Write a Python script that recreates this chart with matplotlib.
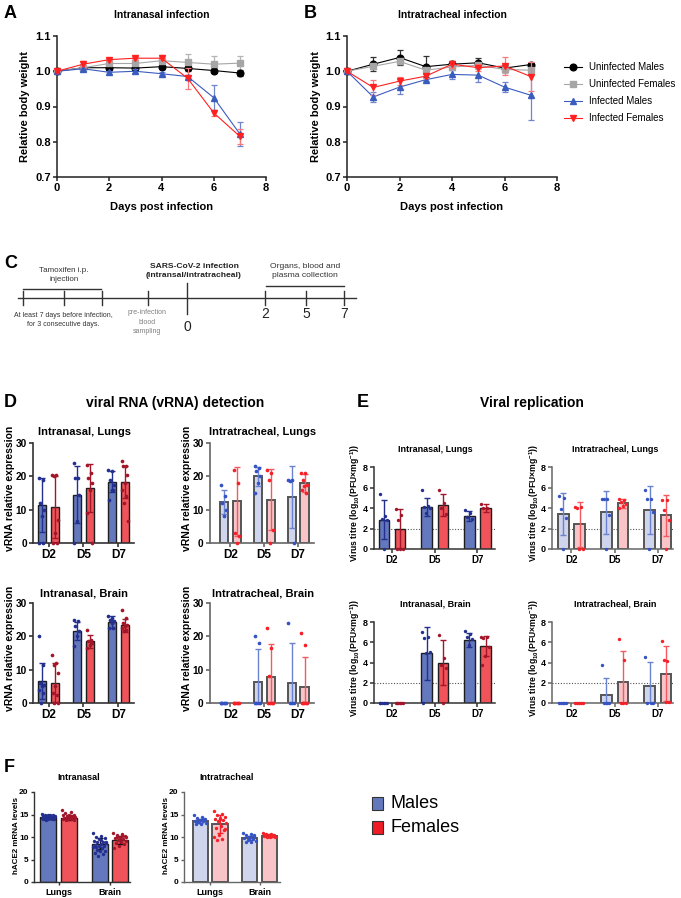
import numpy as np
import matplotlib
matplotlib.use("Agg")
import matplotlib.pyplot as plt
from matplotlib.lines import Line2D
from matplotlib.patches import Rectangle

plt.rcParams['font.family'] = ['Liberation Sans', 'DejaVu Sans']
plt.rcParams['mathtext.fontset'] = 'custom'
plt.rcParams['mathtext.rm'] = 'Liberation Sans:bold'
plt.rcParams['mathtext.bf'] = 'Liberation Sans:bold'
plt.rcParams['mathtext.default'] = 'bf'

# ---------------- data: body weight (A, B) ----------------
days = [0, 1, 2, 3, 4, 5, 6, 7]
series_labels = ["Uninfected Males", "Uninfected Females", "Infected Males", "Infected Females"]

in_unm = [1.0, 1.010, 1.010, 1.009, 1.013, 1.008, 1.002, 0.995]
in_unm_err = [0, 0.006, 0.005, 0.006, 0.007, 0.006, 0.006, 0.008]
in_unf = [1.0, 1.010, 1.022, 1.022, 1.030, 1.025, 1.020, 1.023]
in_unf_err = [0, 0.010, 0.010, 0.010, 0.015, 0.025, 0.022, 0.020]
in_inm = [1.0, 1.007, 0.997, 1.000, 0.993, 0.985, 0.925, 0.822]
in_inm_err = [0, 0.005, 0.004, 0.005, 0.004, 0.005, 0.035, 0.034]
in_inf = [1.0, 1.020, 1.033, 1.037, 1.037, 0.980, 0.882, 0.815]
in_inf_err = [0, 0.008, 0.003, 0.003, 0.003, 0.030, 0.008, 0.020]

it_unm = [1.0, 1.020, 1.039, 1.013, 1.020, 1.024, 1.009, 1.019]
it_unm_err = [0, 0.020, 0.020, 0.030, 0.008, 0.015, 0.010, 0.004]
it_unf = [1.0, 1.014, 1.028, 1.003, 1.012, 1.017, 1.005, 1.003]
it_unf_err = [0, 0.008, 0.008, 0.008, 0.008, 0.010, 0.010, 0.010]
it_inm = [1.0, 0.927, 0.955, 0.976, 0.991, 0.989, 0.955, 0.932]
it_inm_err = [0, 0.013, 0.020, 0.005, 0.013, 0.020, 0.015, 0.070]
it_inf = [1.0, 0.954, 0.972, 0.986, 1.020, 1.010, 1.015, 0.985]
it_inf_err = [0, 0.022, 0.012, 0.005, 0.010, 0.010, 0.026, 0.040]

# ---------------- data: vRNA (D) ----------------
time_labels = ["D2", "D5", "D7"]

d_in_lungs_m = [11.4, 14.5, 18.4]; d_in_lungs_m_sd = [8.0, 8.5, 3.2]
d_in_lungs_f = [10.8, 16.4, 18.3]; d_in_lungs_f_sd = [9.3, 7.2, 4.8]
d_in_lungs_m_pts = [[19.5, 19.0, 12.0, 10.0, 8.0, 0.0, 0.0],
                    [24.0, 19.5, 19.5, 14.5, 6.5, 0.0],
                    [22.0, 21.5, 19.0, 17.5, 16.0, 13.0, 16.0]]
d_in_lungs_f_pts = [[20.5, 20.5, 20.0, 7.0, 3.0, 0.0, 0.0],
                    [23.5, 21.0, 19.5, 18.0, 16.0, 9.0, 0.0],
                    [24.5, 23.0, 23.0, 20.5, 18.0, 16.0, 14.0, 12.0, 6.5]]

d_it_lungs_m = [12.2, 20.0, 13.8]; d_it_lungs_m_sd = [3.6, 2.9, 9.2]
d_it_lungs_f = [12.5, 13.0, 18.0]; d_it_lungs_f_sd = [10.3, 9.2, 2.6]
d_it_lungs_m_pts = [[17.5, 14.0, 12.0, 10.0, 8.0],
                    [23.0, 22.5, 21.5, 20.0, 18.0, 15.0],
                    [19.0, 19.0, 18.5, 0.0]]
d_it_lungs_f_pts = [[22.0, 18.0, 3.0, 2.0, 0.0],
                    [22.0, 21.0, 19.0, 4.0, 0.0],
                    [21.0, 21.0, 19.0, 17.5, 17.0, 16.0, 15.0]]

d_in_brain_m = [6.6, 21.6, 24.3]; d_in_brain_m_sd = [5.4, 2.8, 1.7]
d_in_brain_f = [6.1, 18.5, 23.3]; d_in_brain_f_sd = [5.8, 2.0, 1.9]
d_in_brain_m_pts = [[20.0, 11.5, 6.0, 5.5, 5.0, 4.0, 3.0, 0.0],
                    [25.0, 24.5, 23.0, 21.5, 20.0, 17.0],
                    [26.0, 25.5, 25.0, 24.5, 24.0, 22.5, 22.5]]
d_in_brain_f_pts = [[14.5, 12.0, 11.5, 9.0, 5.0, 3.0, 2.5, 0.0, 0.0],
                    [22.0, 19.0, 18.5, 18.0, 17.5, 16.5],
                    [28.0, 25.5, 24.0, 23.5, 23.0, 22.5, 22.0, 21.5]]

d_it_brain_m = [0.0, 6.2, 6.0]; d_it_brain_m_sd = [0.0, 9.9, 12.1]
d_it_brain_f = [0.0, 7.8, 4.7]; d_it_brain_f_sd = [0.0, 9.8, 9.0]
d_it_brain_m_pts = [[0, 0, 0, 0, 0, 0],
                    [20.0, 18.0, 0, 0, 0, 0],
                    [24.0, 0, 0, 0]]
d_it_brain_f_pts = [[0, 0, 0, 0, 0, 0],
                    [22.5, 16.5, 8.0, 0, 0, 0, 0],
                    [21.0, 17.5, 0, 0, 0, 0, 0]]

# ---------------- data: virus titre (E) ----------------
e_in_lungs_m = [2.85, 4.1, 3.25]; e_in_lungs_m_sd = [1.9, 0.85, 0.5]
e_in_lungs_f = [2.0, 4.3, 4.0]; e_in_lungs_f_sd = [1.95, 1.1, 0.35]
e_in_lungs_m_pts = [[5.4, 3.2, 2.9, 2.8, 0.0], [5.8, 4.2, 4.1, 4.0, 3.5], [3.8, 3.5, 3.1, 2.9]]
e_in_lungs_f_pts = [[3.9, 3.3, 2.8, 0.0, 0.0, 0.0], [5.8, 4.5, 4.0, 3.4], [4.4, 4.0, 4.0]]

e_it_lungs_m = [3.4, 3.6, 3.8]; e_it_lungs_m_sd = [2.05, 2.1, 2.3]
e_it_lungs_f = [2.4, 4.45, 3.3]; e_it_lungs_f_sd = [2.2, 0.45, 2.0]
e_it_lungs_m_pts = [[5.2, 5.0, 3.9, 3.0, 0.0], [4.9, 4.9, 4.9, 3.3, 0.0], [5.8, 4.9, 4.9, 3.6, 0.0]]
e_it_lungs_f_pts = [[4.1, 4.1, 4.0, 0.0, 0.0], [4.9, 4.8, 4.6, 4.4, 4.2, 4.0], [4.8, 4.8, 3.8, 2.8, 0.0]]

e_in_brain_m = [0.0, 4.9, 6.25]; e_in_brain_m_sd = [0.0, 2.6, 0.7]
e_in_brain_f = [0.0, 4.0, 5.6]; e_in_brain_f_sd = [0.0, 2.25, 1.0]
e_in_brain_m_pts = [[0, 0, 0, 0, 0, 0], [7.0, 6.5, 6.4, 5.0, 4.9, 0.0], [7.1, 6.8, 6.5, 6.3, 5.7]]
e_in_brain_f_pts = [[0, 0, 0, 0, 0, 0], [6.7, 4.4, 3.8, 3.5, 0.0], [6.5, 6.5, 6.4, 5.5, 4.6, 3.8]]

e_it_brain_m = [0.0, 0.75, 1.7]; e_it_brain_m_sd = [0.0, 1.75, 2.35]
e_it_brain_f = [0.0, 2.1, 2.9]; e_it_brain_f_sd = [0.0, 3.0, 2.7]
e_it_brain_m_pts = [[0, 0, 0, 0, 0], [3.8, 0, 0, 0, 0], [4.5, 0, 0, 0]]
e_it_brain_f_pts = [[0, 0, 0, 0, 0], [6.3, 4.2, 0, 0, 0], [6.1, 4.1, 4.2, 0.1, 0.1]]
detection_limit = 2.0

# ---------------- data: hACE2 (F) ----------------
organ_labels = ["Lungs", "Brain"]
f_in_m = [14.4, 8.5]; f_in_m_sd = [0.4, 1.2]
f_in_f = [14.3, 9.3]; f_in_f_sd = [0.5, 0.9]
f_in_m_pts = [[15.2, 15.0, 14.9, 14.8, 14.8, 14.7, 14.6, 14.6, 14.5, 14.5, 14.4, 14.4, 14.3, 14.3,
               14.2, 14.2, 14.1, 14.0, 14.0, 13.9, 13.8, 14.6, 14.3, 14.1],
              [11.0, 10.3, 10.0, 9.7, 9.5, 9.2, 9.0, 8.8, 8.6, 8.5, 8.3, 8.1, 7.9, 7.7, 7.5, 7.2,
               7.0, 6.8, 6.5, 6.2, 5.8, 8.9, 9.4, 7.8]]
f_in_f_pts = [[16.0, 15.6, 15.3, 15.0, 14.9, 14.8, 14.7, 14.6, 14.5, 14.4, 14.3, 14.2, 14.1, 14.0,
               13.9, 13.8, 13.7, 14.5, 14.2, 14.4],
              [10.8, 10.6, 10.4, 10.2, 10.0, 9.8, 9.6, 9.4, 9.2, 9.0, 8.7, 8.4, 8.0, 7.5, 10.3,
               9.9, 10.1, 9.5]]
f_it_m = [13.6, 9.8]; f_it_m_sd = [0.5, 0.5]
f_it_f = [13.0, 10.3]; f_it_f_sd = [2.0, 0.3]
f_it_m_pts = [[14.8, 14.5, 14.2, 14.0, 13.8, 13.6, 13.5, 13.3, 13.2, 13.0, 12.8, 13.9, 13.4],
              [11.0, 10.7, 10.4, 10.2, 10.0, 9.8, 9.6, 9.4, 9.2, 9.0, 8.8, 10.5, 9.7]]
f_it_f_pts = [[15.8, 15.2, 14.8, 14.5, 14.3, 14.0, 13.8, 13.5, 13.2, 12.5, 12.0, 11.5, 10.5, 10.0,
               9.5, 9.3, 11.8, 14.1],
              [10.9, 10.7, 10.6, 10.5, 10.4, 10.3, 10.2, 10.1, 10.0, 9.9, 10.4, 10.2]]

# ---------------- figure ----------------
W, H = 681, 898
fig = plt.figure(figsize=(W / 100, H / 100), dpi=100)


def px_axes(l, t, r, b):
    return fig.add_axes([l / W, 1 - b / H, (r - l) / W, (b - t) / H])


def ftext(x, y, s, **kw):
    kw.setdefault('ha', 'center')
    kw.setdefault('va', 'center')
    return fig.text(x / W, 1 - y / H, s, **kw)


def gp_style(ax, lw=1.1, color='#222222', ysize=8, xsize=8, ticklen=3):
    for s in ['top', 'right']:
        ax.spines[s].set_visible(False)
    for s in ['left', 'bottom']:
        ax.spines[s].set_linewidth(lw)
        ax.spines[s].set_color(color)
    ax.tick_params(direction='out', width=lw, length=ticklen, color=color, pad=1.5)
    ax.tick_params(axis='y', labelsize=ysize)
    ax.tick_params(axis='x', labelsize=xsize)
    for lab in ax.get_xticklabels() + ax.get_yticklabels():
        lab.set_fontweight('bold')


# ---------- Panels A and B ----------
styles = [dict(color='#000000', marker='o', ecolor='#333333'),
          dict(color='#a6a6a6', marker='s', ecolor='#b5b5b5'),
          dict(color='#3b5cbf', marker='^', ecolor='#6f86cf'),
          dict(color='#ff2020', marker='v', ecolor='#f77a7a')]

weight_sets = [
    ((57, 36, 266, 177), [(in_unm, in_unm_err), (in_unf, in_unf_err), (in_inm, in_inm_err), (in_inf, in_inf_err)]),
    ((347, 36, 557, 177), [(it_unm, it_unm_err), (it_unf, it_unf_err), (it_inm, it_inm_err), (it_inf, it_inf_err)]),
]
handles = []
for (box, sets) in weight_sets:
    ax = px_axes(*box)
    for k, ((vals, errs), st) in enumerate(zip(sets, styles)):
        ax.errorbar(days, vals, yerr=errs, fmt='none', ecolor=st['ecolor'], elinewidth=0.9,
                    capsize=2.5, capthick=0.9, zorder=2 + k)
        ax.plot(days, vals, color=st['color'], lw=0.8, zorder=3 + k)
        ax.plot(days, vals, ls='none', marker=st['marker'], color=st['color'], ms=4.8,
                zorder=4 + k, clip_on=False)
    ax.set_xlim(0, 8)
    ax.set_ylim(0.7, 1.1)
    ax.set_xticks([0, 2, 4, 6, 8])
    ax.set_yticks([0.7, 0.8, 0.9, 1.0, 1.1])
    ax.set_yticklabels(['0.7', '0.8', '0.9', '1.0', '1.1'])
    gp_style(ax, lw=1.1, ysize=8, xsize=8)

for st, lab in zip(styles, series_labels):
    handles.append(Line2D([0], [0], color=st['color'], marker=st['marker'], ms=4.8, lw=0.8))
fig.legend(handles, series_labels, loc='upper left', bbox_to_anchor=(564 / W, 1 - 62 / H),
           frameon=False, fontsize=7, handlelength=1.9, handletextpad=0.7, labelspacing=0.72,
           borderpad=0, borderaxespad=0)

ftext(162, 15, "Intranasal infection", fontsize=7.5, fontweight='bold')
ftext(452, 15, "Intratracheal infection", fontsize=7.5, fontweight='bold')
ftext(162, 207, "Days post infection", fontsize=8, fontweight='bold')
ftext(452, 207, "Days post infection", fontsize=8, fontweight='bold')
ftext(25, 106, "Relative body weight", fontsize=8, fontweight='bold', rotation=90)
ftext(316, 106, "Relative body weight", fontsize=8, fontweight='bold', rotation=90)
ftext(4, 13, "A", fontsize=13, fontweight='bold', ha='left')
ftext(304, 13, "B", fontsize=13, fontweight='bold', ha='left')

# ---------- Panel C (timeline) ----------
axc = fig.add_axes([0, 0, 1, 1], facecolor='none')
axc.set_xlim(0, W)
axc.set_ylim(H, 0)
axc.axis('off')
tl = '#333333'
axc.plot([18, 356], [298, 298], color=tl, lw=1.0)
axc.plot([23, 101], [289, 289], color=tl, lw=1.0)
axc.plot([266, 344], [286, 286], color=tl, lw=1.0)
for xt in [23, 64, 102, 148, 265, 306, 344]:
    axc.plot([xt, xt], [291, 305], color=tl, lw=1.0)
axc.plot([187, 187], [283, 314], color=tl, lw=1.0)
ftext(64, 275, "Tamoxifen i.p.\ninjection", fontsize=5.8, color='#333333', linespacing=1.35)
ftext(194, 271, "SARS-CoV-2 infection\n(intransal/intratracheal)", fontsize=6.1,
      fontweight='bold', color='#222222', linespacing=1.35)
ftext(305, 271, "Organs, blood and\nplasma collection", fontsize=6.1, color='#333333',
      linespacing=1.35)
ftext(63, 320, "At least 7 days before infection,\nfor 3 consecutive days.", fontsize=5.0,
      color='#333333', linespacing=1.45)
ftext(147, 322, "pre-infection\nblood\nsampling", fontsize=5.0, color='#808080',
      linespacing=1.45)
ftext(187, 327, "0", fontsize=10, color='#222222')
for xt, s in zip([265, 306, 344], ["2", "5", "7"]):
    ftext(xt, 314, s, fontsize=10, color='#222222')
ftext(4, 263, "C", fontsize=13, fontweight='bold', ha='left')

# ---------- bar helper ----------
IN_STYLE = dict(m_fill='#6478be', f_fill='#f0545a', edge='#1e1e1e', elw=1.0,
                m_dot='#23308f', f_dot='#a3162a', m_err='#23308f', f_err='#a3162a', spine='#333333')
IT_STYLE = dict(m_fill='#cfd5ec', f_fill='#f8c4c8', edge='#555555', elw=1.4,
                m_dot='#3553c4', f_dot='#f52028', m_err='#6b82cf', f_err='#f25a60', spine='#666666')


def spread(n):
    return ((np.arange(n) * 0.618034) % 1.0) - 0.5


def bar_panel(ax, st, m, msd, mpts, f, fsd, fpts, width, off, dot_s=7, ecap=2.5, dot_frac=0.8):
    x = np.arange(len(m))
    for means, sds, pts, sign, fill, dotc, errc in [
            (m, msd, mpts, -1, st['m_fill'], st['m_dot'], st['m_err']),
            (f, fsd, fpts, 1, st['f_fill'], st['f_dot'], st['f_err'])]:
        xp = x + sign * off
        ax.bar(xp, means, width, color=fill, edgecolor=st['edge'], lw=st['elw'], zorder=2)
        for i in range(len(means)):
            if sds[i] > 0:
                ax.errorbar(xp[i], means[i], yerr=sds[i], fmt='none', ecolor=errc, elinewidth=1.0,
                            capsize=ecap, capthick=1.0, zorder=3)
            vals = np.asarray(pts[i])
            ax.scatter(xp[i] + spread(len(vals)) * width * dot_frac, vals, s=dot_s, color=dotc,
                       zorder=4, clip_on=False, linewidths=0)


# ---------- Panel D ----------
d_panels = [
    ((33, 443, 134, 543), (-0.45, 2.45), IN_STYLE, d_in_lungs_m, d_in_lungs_m_sd, d_in_lungs_m_pts,
     d_in_lungs_f, d_in_lungs_f_sd, d_in_lungs_f_pts, "Intranasal, Lungs", 84, 432, 10),
    ((210, 443, 314, 543), (-0.6, 2.47), IT_STYLE, d_it_lungs_m, d_it_lungs_m_sd, d_it_lungs_m_pts,
     d_it_lungs_f, d_it_lungs_f_sd, d_it_lungs_f_pts, "Intratracheal, Lungs", 263, 432, 187),
    ((33, 603, 134, 703), (-0.45, 2.45), IN_STYLE, d_in_brain_m, d_in_brain_m_sd, d_in_brain_m_pts,
     d_in_brain_f, d_in_brain_f_sd, d_in_brain_f_pts, "Intranasal, Brain", 84, 593, 10),
    ((210, 603, 314, 703), (-0.6, 2.47), IT_STYLE, d_it_brain_m, d_it_brain_m_sd, d_it_brain_m_pts,
     d_it_brain_f, d_it_brain_f_sd, d_it_brain_f_pts, "Intratracheal, Brain", 263, 593, 187),
]
for box, xl, st, m, msd, mp, f, fsd, fp, title, tx, ty, ylx in d_panels:
    ax = px_axes(*box)
    bar_panel(ax, st, m, msd, mp, f, fsd, fp, width=0.24, off=0.19, dot_s=7)
    ax.set_xlim(*xl)
    ax.set_ylim(0, 30)
    ax.set_yticks([0, 10, 20, 30])
    ax.set_xticks(range(3))
    ax.set_xticklabels(time_labels)
    gp_style(ax, lw=1.2, color=st['spine'], ysize=7.3, xsize=8.5)
    ftext(tx, ty, title, fontsize=8, fontweight='bold')
    ftext(ylx, (box[1] + box[3]) / 2 - 5, "vRNA relative expression", fontsize=7.5, fontweight='bold',
          rotation=90)
ftext(175, 403, "viral RNA (vRNA) detection", fontsize=10, fontweight='bold')
ftext(4, 402, "D", fontsize=13, fontweight='bold', ha='left')

# ---------- Panel E ----------
e_ylabel = "Virus titre (log$_{10}$(PFU\u00d7mg$^{-1}$))"
e_panels = [
    ((374, 467, 495, 549), (-0.42, 2.41), IN_STYLE, e_in_lungs_m, e_in_lungs_m_sd, e_in_lungs_m_pts,
     e_in_lungs_f, e_in_lungs_f_sd, e_in_lungs_f_pts, "Intranasal, Lungs", 435, 449, 355),
    ((552, 467, 673, 549), (-0.45, 2.35), IT_STYLE, e_it_lungs_m, e_it_lungs_m_sd, e_it_lungs_m_pts,
     e_it_lungs_f, e_it_lungs_f_sd, e_it_lungs_f_pts, "Intratracheal, Lungs", 615, 449, 534),
    ((374, 622, 495, 703), (-0.42, 2.41), IN_STYLE, e_in_brain_m, e_in_brain_m_sd, e_in_brain_m_pts,
     e_in_brain_f, e_in_brain_f_sd, e_in_brain_f_pts, "Intranasal, Brain", 435, 604, 355),
    ((552, 622, 673, 703), (-0.45, 2.35), IT_STYLE, e_it_brain_m, e_it_brain_m_sd, e_it_brain_m_pts,
     e_it_brain_f, e_it_brain_f_sd, e_it_brain_f_pts, "Intratracheal, Brain", 615, 604, 534),
]
for box, xl, st, m, msd, mp, f, fsd, fp, title, tx, ty, ylx in e_panels:
    ax = px_axes(*box)
    bar_panel(ax, st, m, msd, mp, f, fsd, fp, width=0.245, off=0.19, dot_s=6)
    ax.axhline(detection_limit, ls=(0, (1, 1.5)), color='#555555', lw=0.8, zorder=1.5)
    ax.set_xlim(*xl)
    ax.set_ylim(0, 8)
    ax.set_yticks([0, 2, 4, 6, 8])
    ax.set_xticks(range(3))
    ax.set_xticklabels(time_labels)
    gp_style(ax, lw=1.1, color=st['spine'], ysize=6.5, xsize=7)
    ftext(tx, ty, title, fontsize=6.5, fontweight='bold')
    ftext(ylx, (box[1] + box[3]) / 2 - 5, e_ylabel, fontsize=6.2, fontweight='bold', rotation=90)
ftext(532, 403, "Viral replication", fontsize=10, fontweight='bold')
ftext(357, 402, "E", fontsize=13, fontweight='bold', ha='left')

# ---------- Panel F ----------
f_panels = [
    ((34, 792, 130, 882), (-0.48, 1.39), IN_STYLE, f_in_m, f_in_m_sd, f_in_m_pts, f_in_f, f_in_f_sd,
     f_in_f_pts, "Intranasal", 79, 778, 17, '#111111', '#111111'),
    ((184, 792, 280, 882), (-0.53, 1.41), IT_STYLE, f_it_m, f_it_m_sd, f_it_m_pts, f_it_f, f_it_f_sd,
     f_it_f_pts, "Intratracheal", 227, 778, 167, '#3553c4', '#f52028'),
]
for box, xl, st, m, msd, mp, f, fsd, fp, title, tx, ty, ylx, mec, fec in f_panels:
    ax = px_axes(*box)
    st2 = dict(st)
    st2['m_err'] = mec
    st2['f_err'] = fec
    bar_panel(ax, st2, m, msd, mp, f, fsd, fp, width=0.31, off=0.2, dot_s=6, ecap=2.5, dot_frac=0.85)
    ax.set_xlim(*xl)
    ax.set_ylim(0, 20)
    ax.set_yticks([0, 5, 10, 15, 20])
    ax.set_xticks(range(2))
    ax.set_xticklabels(organ_labels)
    gp_style(ax, lw=1.0, color=st['spine'], ysize=6, xsize=6.5, ticklen=2.5)
    ftext(tx, ty, title, fontsize=6.5, fontweight='bold')
    ftext(ylx, (box[1] + box[3]) / 2 - 2, "hACE2 mRNA levels", fontsize=5.8, fontweight='bold',
          rotation=90)
ftext(4, 767, "F", fontsize=13, fontweight='bold', ha='left')

# ---------- Sex legend ----------
for (yy, fill, lab) in [(803.5, '#6478be', "Males"), (827.5, '#ee1c25', "Females")]:
    axc.add_patch(Rectangle((372, yy - 6.5), 11, 13, facecolor=fill, edgecolor='#333333', lw=0.8))
    ftext(390, yy, lab, fontsize=13, ha='left')

fig.savefig("out.png", dpi=100)
